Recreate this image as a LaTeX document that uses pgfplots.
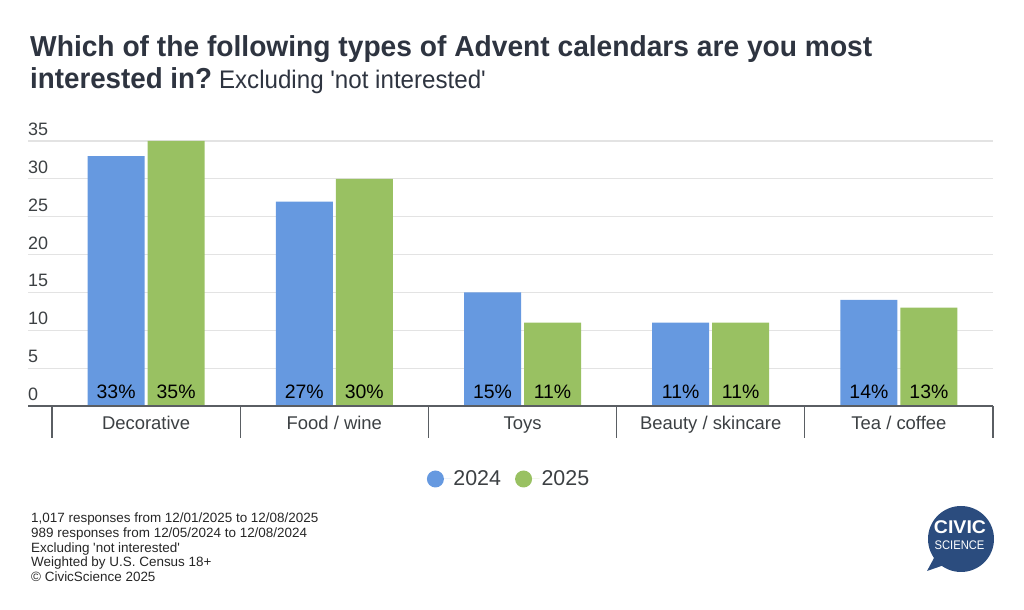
\documentclass[border=0pt]{standalone}
\usepackage{pgfplots}
\pgfplotsset{compat=1.18}
\usepackage{fontspec}
\setmainfont{Liberation Sans}
\usepackage{graphicx}
\definecolor{c24}{HTML}{6699E0}
\definecolor{c25}{HTML}{99C162}
\definecolor{ttl}{HTML}{2E3440}
\definecolor{txt}{HTML}{3C4043}
\definecolor{logo}{HTML}{2B4C7E}
\definecolor{grd}{HTML}{E3E3E3}
\definecolor{axc}{HTML}{5A5E63}
\begin{document}
\begin{tikzpicture}[x=1bp,y=1bp]
\useasboundingbox (0,0) rectangle (1024,610);
% title
\node[anchor=base west, inner sep=0, text=ttl] at (30,553) {\scalebox{0.975}[1]{\fontsize{29}{32}\selectfont\bfseries Which of the following types of Advent calendars are you most}};
\node[anchor=base west, inner sep=0, text=ttl] at (30,521) {\scalebox{0.96}[1]{\fontsize{29}{32}\selectfont\bfseries interested in?}\hspace{7bp}{\scalebox{0.95}[1]{\fontsize{25.5}{28}\selectfont Excluding \textquotesingle not interested\textquotesingle}}};
\begin{axis}[
  at={(28bp,204bp)}, anchor=south west,
  scale only axis, width=965bp, height=265bp,
  xmin=-0.6275, xmax=4.5, ymin=0, ymax=35,
  separate axis lines, axis x line*=bottom, axis y line*=left,
  axis line style={draw=none},
  major tick length=0pt,
  tick style={draw=none},
  ytick={0,5,...,35},
  ymajorgrids, grid style={grd, line width=1.2bp},
  yticklabel style={anchor=base west, inner sep=0pt, yshift=5.5bp, font=\fontsize{18}{20}\selectfont, text=txt},
  /pgf/number format/assume math mode=true,
  xtick={0,...,4},
  xticklabels={Decorative, Food / wine, Toys, Beauty / skincare, Tea / coffee},
  xticklabel style={anchor=base, inner sep=0pt, yshift=-23.5bp, font=\fontsize{18.5}{20}\selectfont, text=txt},
  legend style={at={(0.4985,-0.2755)}, anchor=center, draw=none, fill=none, legend columns=2,
    font=\fontsize{21.5}{24}\selectfont, text=txt,
    /tikz/every even column/.style={column sep=12bp},
    /tikz/every odd column/.style={column sep=0bp}},
  legend cell align=left,
  legend image code/.code={\fill[#1] (0bp,0bp) circle (8.5bp); \path (-8.5bp,0bp) -- (16bp,0bp);},
  clip=false,
]
\addplot[ybar, bar width=57bp, bar shift=-30bp, fill=c24, draw=none] coordinates {(0,33) (1,27) (2,15) (3,11) (4,14)};
\addplot[ybar, bar width=57bp, bar shift=30bp, fill=c25, draw=none] coordinates {(0,35) (1,30) (2,11) (3,11) (4,13)};
\legend{2024,2025}
\addplot[draw=none, mark=none, forget plot, nodes near coords, point meta=explicit symbolic,
  nodes near coords style={anchor=base, yshift=7.5bp, xshift=-30bp, font=\fontsize{19.5}{20}\selectfont, text=black, inner sep=0pt}]
  coordinates {(0,0) [33\%] (1,0) [27\%] (2,0) [15\%] (3,0) [11\%] (4,0) [14\%]};
\addplot[draw=none, mark=none, forget plot, nodes near coords, point meta=explicit symbolic,
  nodes near coords style={anchor=base, yshift=7.5bp, xshift=30bp, font=\fontsize{19.5}{20}\selectfont, text=black, inner sep=0pt}]
  coordinates {(0,0) [35\%] (1,0) [30\%] (2,0) [11\%] (3,0) [11\%] (4,0) [13\%]};
\draw[axc, line width=1.6bp] (rel axis cs:0,0) -- (rel axis cs:1,0);
\pgfplotsinvokeforeach{-0.5,0.5,1.5,2.5,3.5,4.5}{\draw[axc, line width=1.2bp] (axis cs:#1,0) -- ([yshift=-32bp]axis cs:#1,0);}
\end{axis}
% footnote
\node[anchor=north west, align=left, inner sep=0, text=black!85, font=\fontsize{13.5}{14.6}\selectfont] at (31,97) {1,017 responses from 12/01/2025 to 12/08/2025\\989 responses from 12/05/2024 to 12/08/2024\\Excluding \textquotesingle not interested\textquotesingle\\Weighted by U.S. Census 18+\\© CivicScience 2025};
% logo
\fill[logo] (961,71) circle (33);
\fill[logo] (934,52) -- (927,39) -- (950,47) -- cycle;
\node[text=white, inner sep=0, anchor=base] at (960,76) {\scalebox{1.06}[1]{\fontsize{18.5}{20}\selectfont\bfseries CIVIC}};
\node[text=white, inner sep=0, anchor=base] at (959.5,60) {\scalebox{0.9}[1]{\fontsize{12.5}{14}\selectfont SCIENCE}};
\end{tikzpicture}
\end{document}
